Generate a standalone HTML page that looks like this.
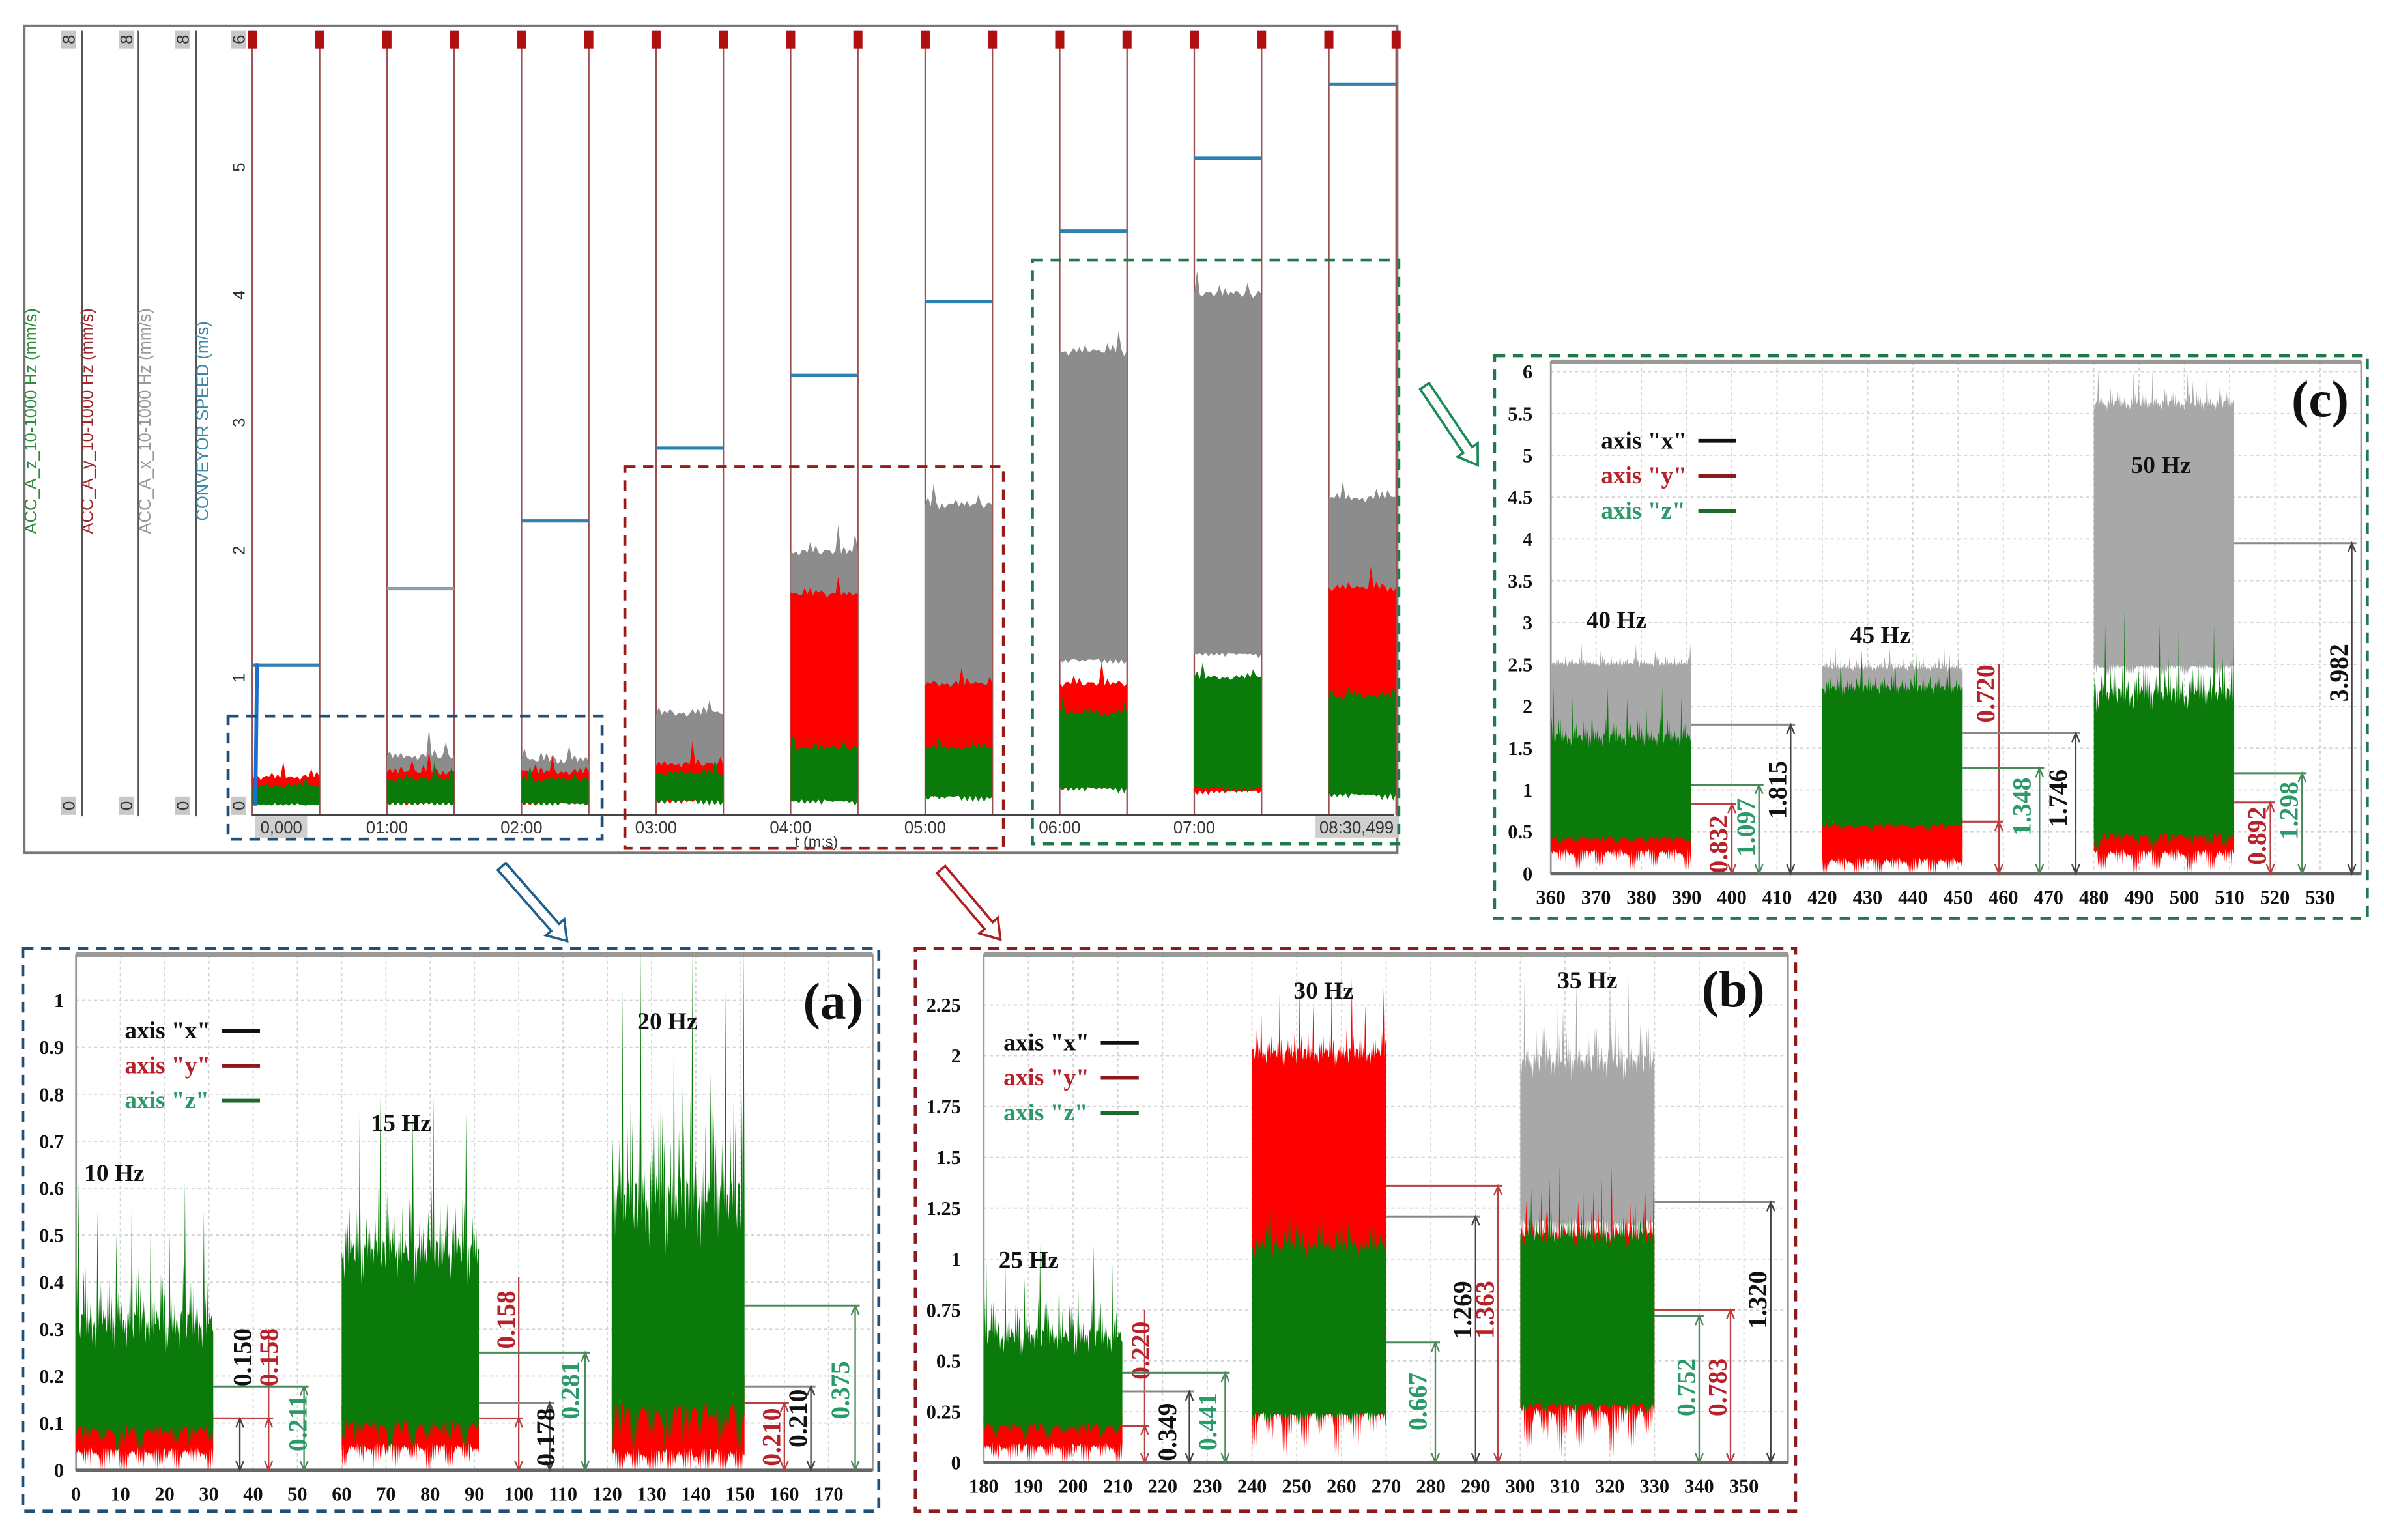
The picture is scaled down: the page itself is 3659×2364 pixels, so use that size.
<!DOCTYPE html>
<html><head><meta charset="utf-8"><style>
html,body{margin:0;padding:0;background:#fff;}
svg{display:block;}
text{font-family:"Liberation Serif",serif;}
.sans{font-family:"Liberation Sans",sans-serif;}
</style></head>
<body>
<svg id="fig" xmlns="http://www.w3.org/2000/svg" width="3659" height="2364" viewBox="0 0 1568 1013" preserveAspectRatio="none">
<rect x="0" y="0" width="1568" height="1013" fill="#fff"/>
</svg>
<script>
// ---------- DATA ----------
const jitter=[0.3,0.8,0.1,0.6,0.95,0.2,0.5,0.4,0.7,0.05,0.9,0.35,0.6,0.15,0.75,0.45,1.0,0.25,0.55,0.1,0.85,0.4,0.65,0.3,0.5,0.2,0.8,0.1,0.6,0.45,0.7];

const topBlockStart=[0,60,120,180,240,300,360,420,480];
const topSpeed=[1.1,1.7,2.23,2.8,3.37,3.95,4.5,5.07,5.65];
const topGrayLo=[0,0.05,0.05,0.1,0.1,0.15,1.15,1.2,0.15];
const topGrayHi=[0,0.38,0.35,0.72,1.98,2.35,3.55,4.0,2.4];
const topRedLo=[0.03,0.03,0.03,0.05,0.1,0.1,0.15,0.12,0.1];
const topRedHi=[0.22,0.26,0.26,0.32,1.65,0.95,0.95,0.2,1.7];
const topGreenLo=[0.02,0.03,0.03,0.05,0.05,0.08,0.15,0.15,0.1];
const topGreenHi=[0.15,0.2,0.2,0.25,0.45,0.45,0.72,1.0,0.85];
const topTimeLabels=["0,000","01:00","02:00","03:00","04:00","05:00","06:00","07:00","08:30,499"];
const topTimeValues=[0,60,120,180,240,300,360,420,510];

const aStart=[0,60,121], aEnd=[31,91,151];
const aFreq=["10 Hz","15 Hz","20 Hz"];
const aGrayLo=[0,0,0], aGrayHi=[0,0,0], aGraySp=[0,0,0];
const aRedLo=[0.05,0.06,0.05], aRedHi=[0.12,0.13,0.2], aRedSp=[0.03,0.03,0.06];
const aGreenLo=[0.1,0.11,0.15], aGreenHi=[0.3,0.45,0.55], aGreenSp=[0.2,0.22,0.38];
const aYTicks=[0,0.1,0.2,0.3,0.4,0.5,0.6,0.7,0.8,0.9,1];
const aYLabels=["0","0.1","0.2","0.3","0.4","0.5","0.6","0.7","0.8","0.9","1"];
const aXTicks=[0,10,20,30,40,50,60,70,80,90,100,110,120,130,140,150,160,170];
const aAnn=[[31,37,0.11,0.11,37.5,0.24,"0.150","k"],[31,43.5,0.11,0.3,43.5,0.24,"0.158","r"],[31,51.5,0.178,0.178,50,0.1,"0.211","g"],
 [91,100,0.11,0.41,97,0.32,"0.158","r"],[91,107,0.143,0.143,106,0.07,"0.178","k"],[91,115,0.25,0.25,111.5,0.17,"0.281","g"],
 [151,160,0.143,0.143,157,0.07,"0.210","r"],[151,166,0.178,0.178,163,0.11,"0.210","k"],[151,176,0.35,0.35,172.5,0.17,"0.375","g"]];

const bStart=[180,240,300], bEnd=[211,270,330];
const bFreq=["25 Hz","30 Hz","35 Hz"];
const bGrayLo=[0,0,1.2], bGrayHi=[0,0,1.95], bGraySp=[0,0,0.3];
const bRedLo=[0.1,0.3,0.3], bRedHi=[0.22,2.0,1.1], bRedSp=[0.05,0.2,0.2];
const bGreenLo=[0.2,0.25,0.3], bGreenHi=[0.6,1.05,1.1], bGreenSp=[0.3,0.2,0.2];
const bYTicks=[0,0.25,0.5,0.75,1,1.25,1.5,1.75,2,2.25];
const bYLabels=["0","0.25","0.5","0.75","1","1.25","1.5","1.75","2","2.25"];
const bXTicks=[180,190,200,210,220,230,240,250,260,270,280,290,300,310,320,330,340,350];
const bAnn=[[211,216,0.18,0.75,215,0.55,"0.220","r"],[211,226,0.349,0.349,221,0.15,"0.349","k"],[211,234,0.441,0.441,230,0.2,"0.441","g"],
 [270,281,0.59,0.59,277,0.3,"0.667","g"],[270,290,1.21,1.21,287,0.75,"1.269","k"],[270,295,1.36,1.36,292,0.75,"1.363","r"],
 [330,340,0.72,0.72,337,0.37,"0.752","g"],[330,347,0.75,0.75,344,0.37,"0.783","r"],[330,356,1.28,1.28,353,0.8,"1.320","k"]];

const cStart=[360,420,480], cEnd=[391,451,511];
const cFreq=["40 Hz","45 Hz","50 Hz"];
const cGrayLo=[1.5,2.0,2.5], cGrayHi=[2.5,2.45,5.6], cGraySp=[0.15,0.15,0.3];
const cRedLo=[0.3,0.2,0.3], cRedHi=[0.6,0.65,0.8], cRedSp=[0.05,0.05,0.1];
const cGreenLo=[0.45,0.6,0.5], cGreenHi=[1.6,2.2,2.1], cGreenSp=[0.4,0.3,0.7];
const cYTicks=[0,0.5,1,1.5,2,2.5,3,3.5,4,4.5,5,5.5,6];
const cYLabels=["0","0.5","1","1.5","2","2.5","3","3.5","4","4.5","5","5.5","6"];
const cXTicks=[360,370,380,390,400,410,420,430,440,450,460,470,480,490,500,510,520,530];
const cAnn=[[391,400,0.83,0.83,397,0.35,"0.832","r"],[391,406,1.06,1.06,403,0.55,"1.097","g"],[391,413,1.78,1.78,410,1.0,"1.815","k"],
 [451,459,0.62,2.5,456,2.15,"0.720","r"],[451,468,1.26,1.26,464,0.8,"1.348","g"],[451,476,1.68,1.68,472,0.9,"1.746","k"],
 [511,519,0.85,0.85,516,0.45,"0.892","r"],[511,526,1.2,1.2,523,0.75,"1.298","g"],[511,537,3.95,3.95,534,2.4,"3.982","k"]];

// ---------- DRAW ----------
const NS="http://www.w3.org/2000/svg";
const svg=document.getElementById('fig');
function mk(tag,attrs,parent){const e=document.createElementNS(NS,tag);for(const k in attrs)e.setAttribute(k,attrs[k]);(parent||svg).appendChild(e);return e;}
function lin(d0,d1,r0,r1){return v=>r0+(v-d0)*(r1-r0)/(d1-d0);}
const COL={k:"#111",r:"#b8202a",g:"#2a9a6a"};
const FILL={gray:"#8c8c8c",grayL:"#a8a8a8",red:"#ff0000",green:"#0a7a0a"};

function band(parent,sx,sy,x0,x1,lo,hi,sp,dp,fill,n,off,name){
  if(hi<=lo) return;
  let pts=[];
  for(let i=0;i<=n;i++){const x=x0+(x1-x0)*i/n;const j=jitter[(i*5+off)%31];const k2=jitter[(i*11+off+3)%31];
    let f=(i%2)?(j-0.3):(j-0.3)*0.3; if(i%2 && k2>0.82) f=j*1.6+0.3;
    const v=hi+sp*f;pts.push(sx(x).toFixed(2)+","+sy(v).toFixed(2));}
  for(let i=n;i>=0;i--){const x=x0+(x1-x0)*i/n;const j=jitter[(i*3+off+7)%31];const v=lo-dp*j*(i%2?1.2:0.3);pts.push(sx(x).toFixed(2)+","+sy(Math.max(v,0)).toFixed(2));}
  const p=mk('polygon',{points:pts.join(" "),fill:fill},parent);
  
  
}

// ===== TOP PANEL =====
const topG=mk('g',{});


const frame=mk('rect',{x:16,y:17,width:903,height:544,fill:"none",stroke:"#777","stroke-width":1.6},topG);


const tx=lin(0,60,166,254.5), ty=lin(0,6,530,26);
[54,91,129,166].forEach((x,i)=>{const l=mk('line',{x1:x,y1:20,x2:x,y2:537,stroke:"#555","stroke-width":1},topG);
 
 });
[45,83,120,157].forEach(x=>{
 ["8","0"].forEach((s,k)=>{const yy=k?530:26;
  const r=mk('rect',{x:x-5,y:yy-6,width:10,height:12,fill:"#c8c8c8"},topG);
  
  
  const t=mk('text',{x:x,y:yy+4,"font-size":11,"text-anchor":"middle",transform:`rotate(-90 ${x} ${yy})`,class:"sans",fill:"#333"},topG);
  t.textContent=(x==157&&k==0)?"6":s;
  
  });
});
const chLabels=[["ACC_A_z_10-1000 Hz (mm/s)","#2e8b3e",24],["ACC_A_y_10-1000 Hz (mm/s)","#a0282d",61],["ACC_A_x_10-1000 Hz (mm/s)","#999",99],["CONVEYOR SPEED (m/s)","#3a8aa8",137]];
chLabels.forEach(c=>{const t=mk('text',{x:c[2],y:277,"font-size":11,"text-anchor":"middle",transform:`rotate(-90 ${c[2]} 277)`,class:"sans",fill:c[1]},topG);
 t.textContent=c[0];
 
 });
[1,2,3,4,5].forEach(v=>{const t=mk('text',{x:157,y:ty(v)+4,"font-size":11,"text-anchor":"middle",transform:`rotate(-90 157 ${ty(v)})`,class:"sans",fill:"#333"},topG);
 t.textContent=String(v);
 
 });
for(let k=0;k<=17;k++){const x=tx(k*30);
 const l=mk('line',{x1:x,y1:20,x2:x,y2:536,stroke:"#9a5050","stroke-width":1},topG);
 
 
 const m=mk('rect',{x:x-3,y:20,width:6,height:12,fill:"#b01010"},topG);
 
 }
const ax=mk('line',{x1:166,y1:536,x2:917,y2:536,stroke:"#444","stroke-width":1.5},topG);


topBlockStart.forEach((s,i)=>{
 band(topG,tx,ty,s,s+30,topGrayLo[i],topGrayHi[i],0.12,0.04,FILL.gray,24,i*3,'x-signal-area');
 band(topG,tx,ty,s,s+30,topRedLo[i],topRedHi[i],0.1,0.03,FILL.red,24,i*3+4,'y-signal-area');
 band(topG,tx,ty,s,s+30,topGreenLo[i],topGreenHi[i],0.08,0.05,FILL.green,24,i*3+9,'z-signal-area');
 const l=mk('line',{x1:tx(s),y1:ty(topSpeed[i]),x2:tx(s+30),y2:ty(topSpeed[i]),stroke:i==1?"#8aa0a8":"#2f7fb0","stroke-width":2.2},topG);
 
 
});
const rise=mk('path',{d:`M${tx(0)+2},${ty(0)} L${tx(0)+3},${ty(topSpeed[0])} L${tx(3)},${ty(topSpeed[0])}`,stroke:"#1a70d0","stroke-width":2.5,fill:"none"},topG);


topTimeValues.forEach((v,i)=>{const x=(i==0)?tx(v)+19:(i==8?tx(v)-26:tx(v));
 if(i==0||i==8){const r=mk('rect',{x:x-(i?27:17),y:537,width:i?54:34,height:14,fill:"#cfcfcf"},topG);
  
  }
 const t=mk('text',{x:x,y:548,"font-size":11,"text-anchor":"middle",class:"sans",fill:"#333"},topG);
 t.textContent=topTimeLabels[i];
 
 });
const tl=mk('text',{x:537,y:557,"font-size":10,"text-anchor":"middle",class:"sans",fill:"#333"},topG);
tl.textContent="t (m:s)";


[[150,471,246,81,"#1f4e79","blue-highlight-box"],[411,307,249,251,"#9a1a1a","red-highlight-box"],[679,171,241,384,"#1e7a4a","green-highlight-box"]].forEach(b=>{
 const r=mk('rect',{x:b[0],y:b[1],width:b[2],height:b[3],fill:"none",stroke:b[4],"stroke-width":2,"stroke-dasharray":"7,5"},topG);
 
 });
function arrow(x1,y1,x2,y2,col,name){const dx=x2-x1,dy=y2-y1,len=Math.hypot(dx,dy),ux=dx/len,uy=dy/len,px=-uy,py=ux;
 const w=3.5,hw=8,hl=12;const bx=x2-ux*hl,by=y2-uy*hl;
 const pts=[[x1+px*w,y1+py*w],[bx+px*w,by+py*w],[bx+px*hw,by+py*hw],[x2,y2],[bx-px*hw,by-py*hw],[bx-px*w,by-py*w],[x1-px*w,y1-py*w]].map(p=>p[0].toFixed(1)+","+p[1].toFixed(1)).join(" ");
 const a=mk('polygon',{points:pts,fill:"#fff",stroke:col,"stroke-width":1.6});
 
 }
arrow(330,570,373,619,"#1f5f8b","blue-arrow");
arrow(619,572,658,618,"#b02020","red-arrow");
arrow(937,254,972,306,"#1e8a5a","green-arrow");

// ===== DETAIL PANELS =====
function panel(cfg){
 const g=mk('g',{});
 
 
 const box=mk('rect',{x:cfg.box[0],y:cfg.box[1],width:cfg.box[2],height:cfg.box[3],fill:"none",stroke:cfg.boxCol,"stroke-width":2,"stroke-dasharray":"7,5"},g);
 
 
 const sx=lin(cfg.xd[0],cfg.xd[1],cfg.xr[0],cfg.xr[1]);
 const sy=lin(cfg.yd[0],cfg.yd[1],cfg.yr[0],cfg.yr[1]);
 const PL=cfg.plot[0],PR=cfg.plot[1],PT=cfg.plot[2],PB=sy(0);
 cfg.xt.forEach(v=>{const l=mk('line',{x1:sx(v),y1:PT,x2:sx(v),y2:PB,stroke:"#d4d4d4","stroke-width":0.8,"stroke-dasharray":"2,2"},g);
  
  
  const t=mk('text',{x:sx(v),y:PB+20,"font-size":13,"font-weight":"bold","text-anchor":"middle",fill:"#111"},g);
  t.textContent=String(v);
  
  });
 cfg.yt.forEach((v,i)=>{const l=mk('line',{x1:PL,y1:sy(v),x2:PR,y2:sy(v),stroke:"#d4d4d4","stroke-width":0.8,"stroke-dasharray":"2,2"},g);
  
  
  const t=mk('text',{x:cfg.ylx,y:sy(v)+4.5,"font-size":13,"font-weight":"bold","text-anchor":"end",fill:"#111"},g);
  t.textContent=cfg.yl[i];
  
  });
 const fr=mk('rect',{x:PL,y:PT,width:PR-PL,height:PB-PT,fill:"none",stroke:"#999","stroke-width":1.2},g);
 
 
 const tb=mk('line',{x1:PL,y1:PT,x2:PR,y2:PT,stroke:"#999","stroke-width":3},g);
 
 
 const bl=mk('line',{x1:PL,y1:PB,x2:PR,y2:PB,stroke:"#666","stroke-width":2},g);
 
 
 cfg.s.forEach((s,i)=>{const e=cfg.e[i];
  band(g,sx,sy,s,e,cfg.gl[i],cfg.gh[i],cfg.gs[i],cfg.gs[i]*0.4,FILL.grayL,160,i*7,'x-signal-area');
  band(g,sx,sy,s,e,cfg.rl[i],cfg.rh[i],cfg.rs[i],cfg.rs[i]*0.8+0.03*cfg.yd[1],FILL.red,160,i*7+3,'y-signal-area');
  band(g,sx,sy,s,e,cfg.nl[i],cfg.nh[i],cfg.ns[i],cfg.ns[i]*0.3,FILL.green,160,i*7+11,'z-signal-area');
  const f=mk('text',{x:sx((s+e)/2)+cfg.fdx[i],y:cfg.fy[i],"font-size":16,"font-weight":"bold","text-anchor":"middle",fill:"#111"},g);
  f.textContent=cfg.f[i];
  
  });
 cfg.ann.forEach(a=>{const c=COL[a[7]];const hc=a[7]=="k"?"#888":(a[7]=="r"?"#b84040":"#4a8a5a");
  const h=mk('line',{x1:sx(a[0]),y1:sy(a[2]),x2:sx(a[1])+3,y2:sy(a[2]),stroke:hc,"stroke-width":1.3},g);
  
  
  const v=mk('line',{x1:sx(a[1]),y1:sy(0),x2:sx(a[1]),y2:sy(a[3]),stroke:a[7]=="k"?"#444":hc,"stroke-width":1},g);
  
  
  const ah=mk('path',{d:`M${sx(a[1])-2.5},${sy(0)-6} L${sx(a[1])},${sy(0)} L${sx(a[1])+2.5},${sy(0)-6} M${sx(a[1])-2.5},${sy(a[2])+6} L${sx(a[1])},${sy(a[2])} L${sx(a[1])+2.5},${sy(a[2])+6}`,stroke:a[7]=="k"?"#444":hc,fill:"none","stroke-width":1},g);
  
  
  const X=sx(a[4]),Y=sy(a[5]);
  const t=mk('text',{x:X,y:Y+6,"font-size":17,"font-weight":"bold","text-anchor":"middle",fill:c,transform:`rotate(-90 ${X} ${Y})`},g);
  t.textContent=a[6];
  
  });
 [['axis "x"',"#111","#111"],['axis "y"',"#b8202a","#8b1a1a"],['axis "z"',"#2a9a6a","#1e6a2a"]].forEach((l,i)=>{
  const y=cfg.leg[1]+i*23;
  const t=mk('text',{x:cfg.leg[0],y:y+5,"font-size":16,"font-weight":"bold",fill:l[1]},g);
  t.textContent=l[0];
  
  
  const ln=mk('line',{x1:cfg.leg[0]+64,y1:y,x2:cfg.leg[0]+89,y2:y,stroke:l[2],"stroke-width":2.5},g);
  
  });
 const tt=mk('text',{x:cfg.tag[0],y:cfg.tag[1],"font-size":34,"font-weight":"bold","text-anchor":"middle",fill:"#111"},g);
 tt.textContent=cfg.tagText;
 
 
}
panel({name:'panel-a',box:[15,624,563,370],boxCol:"#1f4e79",xd:[0,170],xr:[50,545],yd:[0,1],yr:[967,658],plot:[50,574,628],ylx:42,
 xt:aXTicks,yt:aYTicks,yl:aYLabels,s:aStart,e:aEnd,gl:aGrayLo,gh:aGrayHi,gs:aGraySp,rl:aRedLo,rh:aRedHi,rs:aRedSp,nl:aGreenLo,nh:aGreenHi,ns:aGreenSp,
 f:aFreq,fdx:[-20,-6,-7],fy:[777,744,677],ann:aAnn,leg:[82,678],tag:[548,670],tagText:"(a)"});
panel({name:'panel-b',box:[602,624,579,370],boxCol:"#8b1a1a",xd:[180,350],xr:[647,1147],yd:[0,2.25],yr:[962,661],plot:[647,1176,628],ylx:632,
 xt:bXTicks,yt:bYTicks,yl:bYLabels,s:bStart,e:bEnd,gl:bGrayLo,gh:bGrayHi,gs:bGraySp,rl:bRedLo,rh:bRedHi,rs:bRedSp,nl:bGreenLo,nh:bGreenHi,ns:bGreenSp,
 f:bFreq,fdx:[-16,3,0],fy:[834,657,650],ann:bAnn,leg:[660,686],tag:[1140,662],tagText:"(b)"});
panel({name:'panel-c',box:[983,234,574,370],boxCol:"#1e7a4a",xd:[360,530],xr:[1020,1526],yd:[0,6],yr:[574.6,244.5],plot:[1020,1553,238],ylx:1008,
 xt:cXTicks,yt:cYTicks,yl:cYLabels,s:cStart,e:cEnd,gl:cGrayLo,gh:cGrayHi,gs:cGraySp,rl:cRedLo,rh:cRedHi,rs:cRedSp,nl:cGreenLo,nh:cGreenHi,ns:cGreenSp,
 f:cFreq,fdx:[-3,-8,-2],fy:[413,423,311],ann:cAnn,leg:[1053,290],tag:[1526,274],tagText:"(c)"});
</script>
</body></html>
